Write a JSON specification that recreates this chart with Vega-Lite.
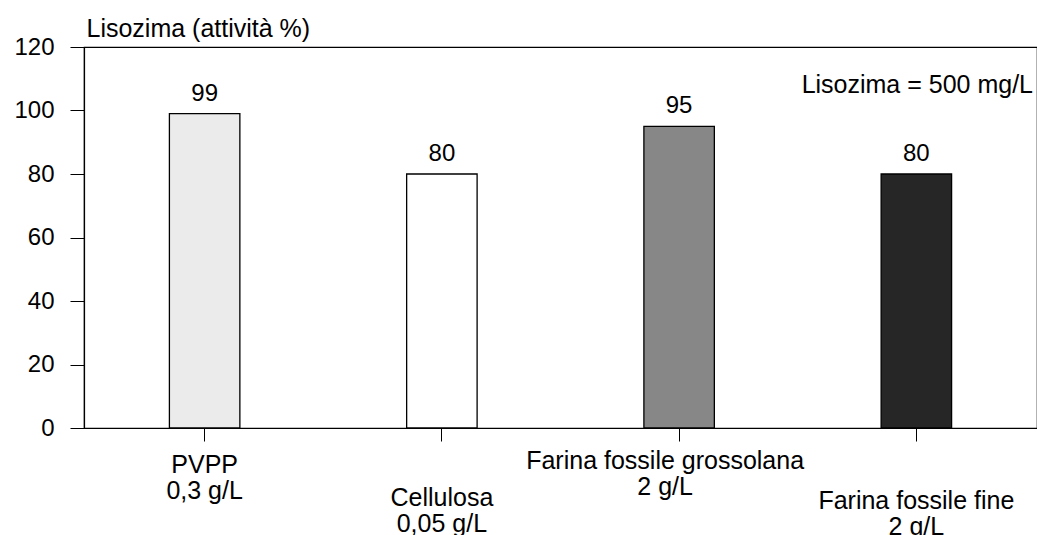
{
  "$schema": "https://vega.github.io/schema/vega-lite/v6.json",
  "width": 953,
  "height": 381,
  "autosize": {"type": "none"},
  "padding": {"left": 84, "top": 47, "right": 0, "bottom": 107},
  "background": "white",
  "config": {
    "font": "Liberation Sans",
    "view": {"stroke": "black", "strokeWidth": 1.2},
    "axis": {"domainColor": "black", "tickColor": "black", "labelColor": "black", "titleColor": "black", "grid": false}
  },
  "data": {
    "values": [
      {"sample": "PVPP|0,3 g/L", "activity": 99, "shade": "a"},
      {"sample": "Cellulosa|0,05 g/L", "activity": 80, "shade": "b"},
      {"sample": "Farina fossile grossolana|2 g/L", "activity": 95, "shade": "c"},
      {"sample": "Farina fossile fine|2 g/L", "activity": 80, "shade": "d"}
    ]
  },
  "encoding": {
    "x": {
      "field": "sample",
      "type": "nominal",
      "sort": null,
      "scale": {"paddingInner": 0.703, "paddingOuter": 0.36},
      "axis": {
        "title": null,
        "labelAngle": 0,
        "labelFontSize": 25,
        "labelLineHeight": 26,
        "labelLimit": 0,
        "labelBaseline": "top",
        "tickSize": 13,
        "domainWidth": 1.2,
        "labelExpr": "split(datum.label, '|')",
        "labelPadding": {
          "condition": [
            {"test": "indexof(datum.value, 'Cellulosa') >= 0", "value": 44},
            {"test": "indexof(datum.value, 'grossolana') >= 0", "value": 7},
            {"test": "indexof(datum.value, 'fine') >= 0", "value": 47}
          ],
          "value": 11
        },
        "labelOffset": {
          "condition": {"test": "indexof(datum.value, 'grossolana') >= 0", "value": -14},
          "value": 0
        }
      }
    },
    "y": {
      "field": "activity",
      "type": "quantitative",
      "scale": {"domain": [0, 120], "nice": false},
      "axis": {
        "values": [0, 20, 40, 60, 80, 100, 120],
        "title": "Lisozima (attività %)",
        "titleAngle": 0,
        "titleAlign": "left",
        "titleBaseline": "alphabetic",
        "titleX": 2,
        "titleY": -11,
        "titleFontSize": 25,
        "titleFontWeight": "normal",
        "labelFontSize": 24,
        "labelPadding": 16,
        "tickSize": 14,
        "domainWidth": 1.2
      }
    }
  },
  "layer": [
    {
      "mark": {"type": "bar", "stroke": "black", "strokeWidth": 1.3},
      "encoding": {
        "fill": {
          "field": "shade",
          "type": "nominal",
          "scale": {"domain": ["a", "b", "c", "d"], "range": ["#ebebeb", "#ffffff", "#878787", "#262626"]},
          "legend": null
        }
      }
    },
    {
      "mark": {"type": "text", "baseline": "bottom", "dy": -8, "fontSize": 24, "color": "black"},
      "encoding": {"text": {"field": "activity", "type": "quantitative"}}
    },
    {
      "data": {"values": [{"note": "Lisozima = 500 mg/L", "level": 108}]},
      "mark": {"type": "text", "align": "right", "baseline": "middle", "dx": -4, "fontSize": 25, "color": "black"},
      "encoding": {
        "x": {"value": "width"},
        "y": {"field": "level", "type": "quantitative"},
        "text": {"field": "note"}
      }
    }
  ]
}
